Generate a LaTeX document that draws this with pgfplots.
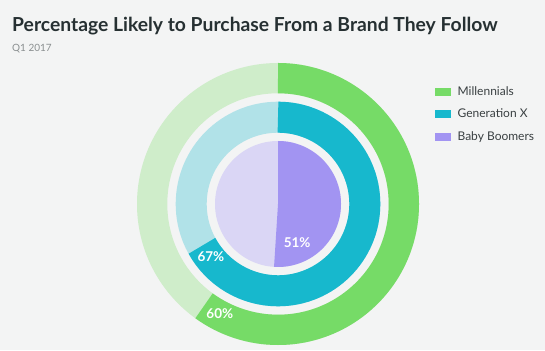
\documentclass[border=0pt]{standalone}
\usepackage{pgfplots}
\usepackage{pgfplotstable}
\pgfplotsset{compat=1.18}
\usepackage{fontspec}
\setmainfont{Lato}
\definecolor{bg}{HTML}{F3F4F4}
\definecolor{mgreen}{HTML}{76DB67}
\definecolor{lgreen}{HTML}{CFEDCA}
\definecolor{mteal}{HTML}{17B8CD}
\definecolor{lteal}{HTML}{B1E2E8}
\definecolor{mpurple}{HTML}{A294F2}
\definecolor{lpurple}{HTML}{DAD6F5}
\definecolor{titlec}{HTML}{263032}
\definecolor{subc}{HTML}{8A8F90}
\definecolor{legc}{HTML}{3A4042}

\pgfplotstableread{
group value rmid width
Millennials 60 125.85 30.3
GenerationX 67 86.8 31.0
BabyBoomers 51 63 0
}\ringdata
\pgfplotstablegetelem{0}{value}\of\ringdata \let\vM\pgfplotsretval
\pgfplotstablegetelem{1}{value}\of\ringdata \let\vX\pgfplotsretval
\pgfplotstablegetelem{2}{value}\of\ringdata \let\vB\pgfplotsretval

\begin{document}
\begin{tikzpicture}
\begin{axis}[
  scale only axis, width=545pt, height=350pt,
  xmin=0, xmax=545, ymin=0, ymax=350,
  hide axis, clip=false,
  legend style={at={(axis cs:435,266)}, anchor=north west, draw=none, fill=none,
    font=\fontsize{12}{14}\selectfont, text=legc, row sep=8.5pt, inner sep=0pt},
  legend cell align=left,
  legend image code/.code={\fill[#1] (0pt,-3.5pt) rectangle (15pt,3.5pt); \path (20pt,0pt);},
]
\fill[bg] (axis cs:0,0) rectangle (axis cs:545,350);
\addlegendimage{mgreen}\addlegendentry{Millennials}
\addlegendimage{mteal}\addlegendentry{Generation X}
\addlegendimage{mpurple}\addlegendentry{Baby Boomers}
% outer ring
\draw[lgreen, line width=30.3pt] (axis cs:278,146) circle[radius=125.85pt];
\draw[mgreen, line width=30.3pt] ([shift={(90:125.85pt)}]axis cs:278,146) arc[start angle=90, end angle={90-3.6*\vM}, radius=125.85pt];
% middle ring
\draw[lteal, line width=31pt] (axis cs:278,146) circle[radius=86.8pt];
\draw[mteal, line width=31pt] ([shift={(90:86.8pt)}]axis cs:278,146) arc[start angle=90, end angle={90-3.6*\vX}, radius=86.8pt];
% inner pie
\fill[lpurple] (axis cs:278,146) circle[radius=63pt];
\fill[mpurple] (axis cs:278,146) -- ++(90:63pt) arc[start angle=90, end angle={90-3.6*\vB}, radius=63pt] -- cycle;
% labels
\node[white, font=\fontsize{13.5}{15}\selectfont\bfseries] at ([shift={({90-3.6*\vM+8}:124pt)}]axis cs:278,146) {\vM\%};
\node[white, font=\fontsize{13.5}{15}\selectfont\bfseries] at ([shift={({90-3.6*\vX+9.5}:85.5pt)}]axis cs:278,146) {\vX\%};
\node[white, font=\fontsize{13.5}{15}\selectfont\bfseries] at ([shift={({90-3.6*\vB+30}:43pt)}]axis cs:278,146) {\vB\%};
% titles
\node[anchor=base west, inner sep=0pt, text=titlec, font=\fontsize{19.3}{22}\selectfont\bfseries] at (axis cs:12,318) {Percentage Likely to Purchase From a Brand They Follow};
\node[anchor=base west, inner sep=0pt, text=subc, font=\fontsize{10}{12}\selectfont] at (axis cs:12,298) {Q1 2017};
\end{axis}
\end{tikzpicture}
\end{document}
